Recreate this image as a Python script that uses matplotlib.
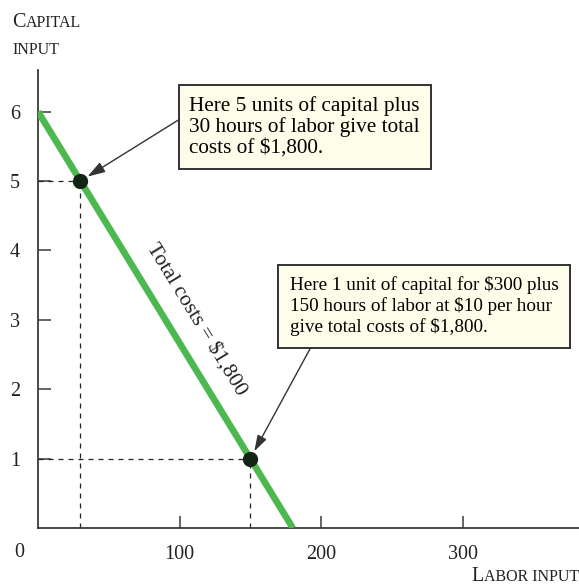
import numpy as np
import matplotlib
matplotlib.use("Agg")
import matplotlib.pyplot as plt
from matplotlib.offsetbox import TextArea, HPacker, VPacker, AnnotationBbox

# Isocost line: total costs of $1,800
labor_ends = [0, 180]
capital_ends = [6, 0]

# Highlighted input combinations (labor hours, capital units)
point_labor = [30, 150]
point_capital = [5, 1]

x_ticks = [100, 200, 300]
y_ticks = [1, 2, 3, 4, 5, 6]

note_top = "Here 5 units of capital plus\n30 hours of labor give total\ncosts of $1,800."
note_low = ("Here 1 unit of capital for $300 plus\n150 hours of labor at \\$10 per hour\n"
            "give total costs of $1,800.")
line_label = "Total costs = $1,800"

plt.rcParams["font.family"] = ["Liberation Serif", "DejaVu Serif"]
ink = "#3a3a3a"
txt = "#222222"

fig = plt.figure(figsize=(5.79, 5.88), dpi=100)
ax = fig.add_axes([0.0656, 0.102, 0.934, 0.779])
ax.set_xlim(0, 382)
ax.set_ylim(0, 6.6)

for side in ("top", "right"):
    ax.spines[side].set_visible(False)
for side in ("left", "bottom"):
    ax.spines[side].set_color(ink)
    ax.spines[side].set_linewidth(1.3)

ax.set_xticks(x_ticks)
ax.set_yticks(y_ticks)
ax.tick_params(direction="in", length=9, width=1.1, color=ink, labelsize=14.5,
               labelcolor=txt)
ax.tick_params(axis="x", pad=12)
ax.tick_params(axis="y", pad=13)
ax.text(-13, -0.22, "0", fontsize=14.5, color=txt, ha="center", va="top",
        clip_on=False)

# Dashed guides to the highlighted combinations
for lx, ky in zip(point_labor, point_capital):
    ax.plot([lx, lx], [0, ky], ls=(0, (4, 4)), color=txt, lw=0.9)
    ax.plot([0, lx], [ky, ky], ls=(0, (4, 4)), color=txt, lw=0.9)

# Isocost line
ax.plot(labor_ends, capital_ends, color="#4cb84f", lw=4.8, solid_capstyle="butt",
        zorder=3)
ax.plot(point_labor, point_capital, "o", ms=10, color="#142414", zorder=4)

# Label running along the line
ang_data = np.degrees(np.arctan2(capital_ends[1] - capital_ends[0],
                                 labor_ends[1] - labor_ends[0]))
mid = np.array([[112, 3.0]])
ang = ax.transData.transform_angles(np.array([ang_data]), mid)[0]
ax.text(mid[0, 0], mid[0, 1], line_label, rotation=ang, rotation_mode="anchor",
        ha="center", va="center", fontsize=15.5, color=txt)

arrow = dict(arrowstyle="-|>,head_length=0.7,head_width=0.22", color="#333333",
             lw=1.0, shrinkA=0, shrinkB=6)

ax.annotate(note_top, xy=(point_labor[0], point_capital[0]), xytext=(107, 6.23),
            ha="left", va="top", fontsize=15.3, linespacing=1.12,
            bbox=dict(boxstyle="square,pad=0.5", fc="#fdfde9", ec="#333333", lw=1.4),
            arrowprops=dict(arrow, relpos=(0, 0.72)), annotation_clip=False,
            zorder=5)
ax.annotate(note_low, xy=(point_labor[1], point_capital[1]), xytext=(178, 3.63),
            ha="left", va="top", fontsize=13.8, linespacing=1.22,
            bbox=dict(boxstyle="square,pad=0.6", fc="#fdfde9", ec="#333333", lw=1.4),
            arrowprops=dict(arrow, relpos=(0.1, 0)), annotation_clip=False,
            zorder=5)

# Small-caps style axis titles
def small_caps(first, rest):
    return HPacker(children=[TextArea(first, textprops=dict(fontsize=14.5, color=txt)),
                             TextArea(rest, textprops=dict(fontsize=11.5, color=txt))],
                   align="baseline", pad=0, sep=0)

ylab = VPacker(children=[small_caps("C", "APITAL"),
                         TextArea("INPUT", textprops=dict(fontsize=11.5, color=txt))],
               align="left", pad=0, sep=7)
fig.add_artist(AnnotationBbox(ylab, (12 / 579, 1 - 13 / 588), xycoords="figure fraction",
                              box_alignment=(0, 1), frameon=False, pad=0))
xlab = HPacker(children=[TextArea("L", textprops=dict(fontsize=14.5, color=txt)),
                         TextArea("ABOR INPUT", textprops=dict(fontsize=11.5, color=txt))],
               align="baseline", pad=0, sep=0)
fig.add_artist(AnnotationBbox(xlab, (1.0, 2 / 588), xycoords="figure fraction",
                              box_alignment=(1, 0), frameon=False, pad=0))

fig.savefig("out.png", dpi=100)
